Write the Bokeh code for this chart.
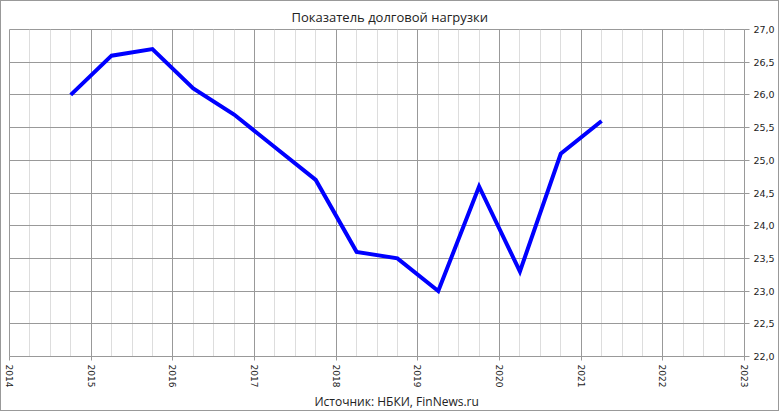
from bokeh.plotting import figure
from bokeh.models import FixedTicker, CustomJSTickFormatter, Title, ColumnDataSource
from bokeh.embed import file_html
from bokeh.resources import INLINE

# Data
periods = [2014.75, 2015.25, 2015.75, 2016.25, 2016.75, 2017.25, 2017.75,
           2018.25, 2018.75, 2019.25, 2019.75, 2020.25, 2020.75, 2021.25]
values = [26.0, 26.6, 26.7, 26.1, 25.7, 25.2, 24.7,
          23.6, 23.5, 23.0, 24.6, 23.3, 25.1, 25.6]
year_ticks = [2014, 2015, 2016, 2017, 2018, 2019, 2020, 2021, 2022, 2023]
quarter_ticks = [y + q for y in range(2014, 2023) for q in (0.25, 0.5, 0.75)]
value_ticks = [22.0, 22.5, 23.0, 23.5, 24.0, 24.5, 25.0, 25.5, 26.0, 26.5, 27.0]

title_text = "Показатель долговой нагрузки"
source_text = "Источник: НБКИ, FinNews.ru"

src = ColumnDataSource(dict(x=periods, y=values))

p = figure(frame_width=735, frame_height=327,
           x_range=(2014, 2023), y_range=(22, 27),
           y_axis_location="right",
           output_backend="svg", toolbar_location=None,
           min_border_left=8, min_border_top=0, min_border_right=34, min_border_bottom=0,
           background_fill_color="white", border_fill_color="white")

p.title.text = title_text
p.title.align = "left"
p.title.offset = 282
p.title.standoff = 8
p.title.text_font = "Open Sans"
p.title.text_font_size = "13px"
p.title.text_font_style = "normal"
p.title.text_color = "#222222"

p.add_layout(Title(text=source_text, align="left", offset=305, standoff=1,
                   text_font="Open Sans", text_font_size="12px",
                   text_font_style="normal", text_color="#222222"), "below")

# x axis
xa = p.xaxis[0]
xa.ticker = FixedTicker(ticks=year_ticks, minor_ticks=quarter_ticks)
xa.major_label_orientation = "vertical"
xa.major_label_text_font = "DejaVu Sans"
xa.major_label_text_font_size = "9px"
xa.major_label_text_color = "#222222"
xa.axis_line_color = "#999999"
xa.major_tick_line_color = "#999999"
xa.major_tick_out = 4
xa.major_tick_in = 0
xa.minor_tick_line_color = None
xa.major_label_standoff = 4

# y axis
ya = p.yaxis[0]
ya.ticker = FixedTicker(ticks=value_ticks)
ya.formatter = CustomJSTickFormatter(code="return tick.toFixed(1).replace('.', ',');")
ya.major_label_text_font = "DejaVu Sans"
ya.major_label_text_font_size = "9.5px"
ya.major_label_text_color = "#222222"
ya.axis_line_color = "#999999"
ya.major_tick_line_color = "#999999"
ya.major_tick_out = 5
ya.major_tick_in = 0
ya.minor_tick_line_color = None
ya.major_label_standoff = 4

# grids
p.xgrid.ticker = FixedTicker(ticks=year_ticks, minor_ticks=quarter_ticks)
p.xgrid.grid_line_color = "#999999"
p.xgrid.minor_grid_line_color = "#dddddd"
p.xgrid.minor_grid_line_width = 1
p.ygrid.ticker = FixedTicker(ticks=value_ticks)
p.ygrid.grid_line_color = "#999999"

p.outline_line_color = "#999999"

p.line("x", "y", source=src, line_color="#0000ff", line_width=4, line_join="miter")

p.styles = {"border": "1px solid #999999", "box-sizing": "border-box"}

open("out.html", "w").write(file_html(p, INLINE))
